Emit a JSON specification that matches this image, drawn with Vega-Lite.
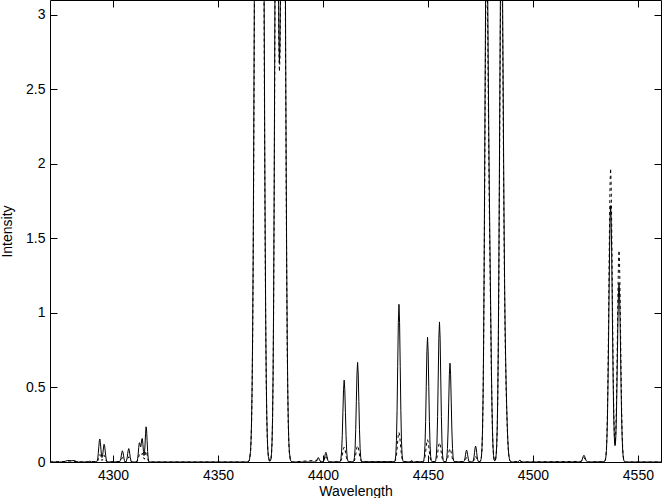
{
  "$schema": "https://vega.github.io/schema/vega-lite/v6.json",
  "width": 611,
  "height": 462,
  "autosize": {"type": "none"},
  "padding": {"left": 50, "top": 0, "right": 1, "bottom": 36},
  "background": "white",
  "config": {
    "font": "Liberation Sans",
    "view": {"stroke": "black", "strokeWidth": 1},
    "axis": {
      "domain": false,
      "grid": false,
      "tickColor": "black",
      "tickWidth": 1,
      "tickSize": -7,
      "labelColor": "black",
      "labelFontSize": 14,
      "labelFont": "Liberation Sans",
      "labelOverlap": false,
      "labelFlush": false,
      "labelBound": false,
      "titleColor": "black",
      "titleFont": "Liberation Sans",
      "titleFontSize": 14,
      "titleFontWeight": "normal"
    }
  },
  "datasets": {
    "solid": [
      {"w": 4270, "v": 0}, {"w": 4276.5, "v": 0}, {"w": 4277.5, "v": 0.006}, {"w": 4278.5, "v": 0.01}, {"w": 4280, "v": 0.008}, {"w": 4281.5, "v": 0.01}, {"w": 4282.5, "v": 0.004}, {"w": 4283.5, "v": 0},
      {"w": 4288.3, "v": 0}, {"w": 4289, "v": 0.006}, {"w": 4289.7, "v": 0},
      {"w": 4292.2, "v": 0.002}, {"w": 4292.5, "v": 0.009}, {"w": 4292.75, "v": 0.025}, {"w": 4293, "v": 0.058}, {"w": 4293.25, "v": 0.103}, {"w": 4293.5, "v": 0.143}, {"w": 4293.75, "v": 0.154}, {"w": 4294, "v": 0.13}, {"w": 4294.25, "v": 0.086}, {"w": 4294.5, "v": 0.047}, {"w": 4294.75, "v": 0.03}, {"w": 4295, "v": 0.038}, {"w": 4295.25, "v": 0.067}, {"w": 4295.5, "v": 0.1}, {"w": 4295.75, "v": 0.119}, {"w": 4296, "v": 0.111}, {"w": 4296.25, "v": 0.08}, {"w": 4296.5, "v": 0.045}, {"w": 4296.75, "v": 0.02}, {"w": 4297, "v": 0.007}, {"w": 4297.3, "v": 0.001}, {"w": 4297.6, "v": 0},
      {"w": 4303, "v": 0.001}, {"w": 4303.25, "v": 0.003}, {"w": 4303.5, "v": 0.01}, {"w": 4303.75, "v": 0.024}, {"w": 4304, "v": 0.046}, {"w": 4304.25, "v": 0.066}, {"w": 4304.5, "v": 0.075}, {"w": 4304.75, "v": 0.066}, {"w": 4305, "v": 0.046}, {"w": 4305.25, "v": 0.024}, {"w": 4305.5, "v": 0.01}, {"w": 4305.75, "v": 0.003}, {"w": 4306, "v": 0.002}, {"w": 4306.25, "v": 0.004}, {"w": 4306.5, "v": 0.012}, {"w": 4306.75, "v": 0.029}, {"w": 4307, "v": 0.055}, {"w": 4307.25, "v": 0.079}, {"w": 4307.5, "v": 0.09}, {"w": 4307.75, "v": 0.079}, {"w": 4308, "v": 0.055}, {"w": 4308.25, "v": 0.029}, {"w": 4308.5, "v": 0.012}, {"w": 4308.75, "v": 0.004}, {"w": 4309, "v": 0.001}, {"w": 4309.3, "v": 0},
      {"w": 4311, "v": 0}, {"w": 4311.25, "v": 0.0015}, {"w": 4311.5, "v": 0.007}, {"w": 4311.75, "v": 0.022}, {"w": 4312, "v": 0.053}, {"w": 4312.25, "v": 0.096}, {"w": 4312.5, "v": 0.128}, {"w": 4312.75, "v": 0.129}, {"w": 4313, "v": 0.109}, {"w": 4313.25, "v": 0.102}, {"w": 4313.5, "v": 0.125}, {"w": 4313.75, "v": 0.156}, {"w": 4314, "v": 0.157}, {"w": 4314.25, "v": 0.119}, {"w": 4314.5, "v": 0.07}, {"w": 4314.75, "v": 0.043}, {"w": 4315, "v": 0.057}, {"w": 4315.25, "v": 0.114}, {"w": 4315.5, "v": 0.19}, {"w": 4315.75, "v": 0.236}, {"w": 4316, "v": 0.215}, {"w": 4316.25, "v": 0.144}, {"w": 4316.5, "v": 0.071}, {"w": 4316.75, "v": 0.026}, {"w": 4317, "v": 0.007}, {"w": 4317.25, "v": 0.001}, {"w": 4317.5, "v": 0},
      {"w": 4363.5, "v": 0}, {"w": 4364, "v": 0.0003}, {"w": 4364.5, "v": 0.002}, {"w": 4365, "v": 0.014}, {"w": 4365.5, "v": 0.07}, {"w": 4365.75, "v": 0.144}, {"w": 4366, "v": 0.277}, {"w": 4366.25, "v": 0.501}, {"w": 4366.5, "v": 0.852}, {"w": 4366.75, "v": 1.363}, {"w": 4367, "v": 2.05}, {"w": 4367.25, "v": 2.9}, {"w": 4367.5, "v": 3.85}, {"w": 4368, "v": 5.68}, {"w": 4368.5, "v": 6.75}, {"w": 4369, "v": 6.81}, {"w": 4369.5, "v": 6.53}, {"w": 4370, "v": 6.63}, {"w": 4370.5, "v": 6.87}, {"w": 4371, "v": 6.45}, {"w": 4371.5, "v": 5.0}, {"w": 4372, "v": 3.08}, {"w": 4372.25, "v": 2.21}, {"w": 4372.5, "v": 1.49}, {"w": 4372.75, "v": 0.941}, {"w": 4373, "v": 0.56}, {"w": 4373.25, "v": 0.313}, {"w": 4373.5, "v": 0.165}, {"w": 4373.75, "v": 0.081}, {"w": 4374, "v": 0.038}, {"w": 4374.5, "v": 0.007}, {"w": 4375, "v": 0.008}, {"w": 4375.25, "v": 0.021}, {"w": 4375.5, "v": 0.056}, {"w": 4375.75, "v": 0.135}, {"w": 4376, "v": 0.298}, {"w": 4376.25, "v": 0.596}, {"w": 4376.5, "v": 1.08}, {"w": 4376.75, "v": 1.78}, {"w": 4377, "v": 2.66}, {"w": 4377.25, "v": 3.59}, {"w": 4377.5, "v": 4.43}, {"w": 4377.9, "v": 5.05}, {"w": 4378.25, "v": 4.68}, {"w": 4378.5, "v": 4.03}, {"w": 4378.75, "v": 3.35}, {"w": 4379, "v": 2.88}, {"w": 4379.25, "v": 2.68}, {"w": 4379.5, "v": 2.78}, {"w": 4379.75, "v": 3.15}, {"w": 4380, "v": 3.8}, {"w": 4380.5, "v": 5.32}, {"w": 4381, "v": 6.0}, {"w": 4381.5, "v": 5.3}, {"w": 4382, "v": 3.64}, {"w": 4382.25, "v": 2.75}, {"w": 4382.5, "v": 1.95}, {"w": 4382.75, "v": 1.3}, {"w": 4383, "v": 0.81}, {"w": 4383.25, "v": 0.478}, {"w": 4383.5, "v": 0.263}, {"w": 4383.75, "v": 0.137}, {"w": 4384, "v": 0.067}, {"w": 4384.5, "v": 0.013}, {"w": 4385, "v": 0.002}, {"w": 4385.5, "v": 0},
      {"w": 4396.3, "v": 0}, {"w": 4396.8, "v": 0.004}, {"w": 4397.3, "v": 0.018}, {"w": 4397.8, "v": 0.03}, {"w": 4398.3, "v": 0.018}, {"w": 4398.8, "v": 0.004}, {"w": 4399.3, "v": 0.0003}, {"w": 4399.9, "v": 0.0007}, {"w": 4400.4, "v": 0.0088}, {"w": 4400.65, "v": 0.021}, {"w": 4400.9, "v": 0.039}, {"w": 4401.15, "v": 0.057}, {"w": 4401.4, "v": 0.065}, {"w": 4401.65, "v": 0.057}, {"w": 4401.9, "v": 0.039}, {"w": 4402.15, "v": 0.021}, {"w": 4402.4, "v": 0.0088}, {"w": 4402.9, "v": 0.0007}, {"w": 4403.3, "v": 0},
      {"w": 4408, "v": 0.0012}, {"w": 4408.3, "v": 0.006}, {"w": 4408.6, "v": 0.024}, {"w": 4408.9, "v": 0.074}, {"w": 4409.2, "v": 0.178}, {"w": 4409.5, "v": 0.333}, {"w": 4409.8, "v": 0.485}, {"w": 4410.1, "v": 0.549}, {"w": 4410.4, "v": 0.485}, {"w": 4410.7, "v": 0.333}, {"w": 4411, "v": 0.178}, {"w": 4411.3, "v": 0.074}, {"w": 4411.6, "v": 0.024}, {"w": 4411.9, "v": 0.006}, {"w": 4412.2, "v": 0.001},
      {"w": 4414.4, "v": 0.0015}, {"w": 4414.7, "v": 0.007}, {"w": 4415, "v": 0.029}, {"w": 4415.3, "v": 0.09}, {"w": 4415.6, "v": 0.217}, {"w": 4415.9, "v": 0.405}, {"w": 4416.2, "v": 0.59}, {"w": 4416.5, "v": 0.668}, {"w": 4416.8, "v": 0.59}, {"w": 4417.1, "v": 0.405}, {"w": 4417.4, "v": 0.217}, {"w": 4417.7, "v": 0.09}, {"w": 4418, "v": 0.029}, {"w": 4418.3, "v": 0.007}, {"w": 4418.6, "v": 0.0015},
      {"w": 4434.1, "v": 0.002}, {"w": 4434.4, "v": 0.012}, {"w": 4434.7, "v": 0.046}, {"w": 4435, "v": 0.143}, {"w": 4435.3, "v": 0.344}, {"w": 4435.6, "v": 0.642}, {"w": 4435.9, "v": 0.934}, {"w": 4436.2, "v": 1.058}, {"w": 4436.5, "v": 0.934}, {"w": 4436.8, "v": 0.642}, {"w": 4437.1, "v": 0.344}, {"w": 4437.4, "v": 0.143}, {"w": 4437.7, "v": 0.046}, {"w": 4438, "v": 0.012}, {"w": 4438.3, "v": 0.002},
      {"w": 4441.5, "v": 0}, {"w": 4442.2, "v": 0.01}, {"w": 4443, "v": 0},
      {"w": 4447.7, "v": 0.002}, {"w": 4448, "v": 0.009}, {"w": 4448.3, "v": 0.037}, {"w": 4448.6, "v": 0.113}, {"w": 4448.9, "v": 0.272}, {"w": 4449.2, "v": 0.508}, {"w": 4449.5, "v": 0.739}, {"w": 4449.8, "v": 0.837}, {"w": 4450.1, "v": 0.739}, {"w": 4450.4, "v": 0.508}, {"w": 4450.7, "v": 0.272}, {"w": 4451, "v": 0.113}, {"w": 4451.3, "v": 0.037}, {"w": 4451.6, "v": 0.009}, {"w": 4451.9, "v": 0.002},
      {"w": 4453.4, "v": 0.002}, {"w": 4453.7, "v": 0.01}, {"w": 4454, "v": 0.041}, {"w": 4454.3, "v": 0.127}, {"w": 4454.6, "v": 0.305}, {"w": 4454.9, "v": 0.57}, {"w": 4455.2, "v": 0.83}, {"w": 4455.5, "v": 0.94}, {"w": 4455.8, "v": 0.83}, {"w": 4456.1, "v": 0.57}, {"w": 4456.4, "v": 0.305}, {"w": 4456.7, "v": 0.127}, {"w": 4457, "v": 0.041}, {"w": 4457.3, "v": 0.01}, {"w": 4457.6, "v": 0.002},
      {"w": 4458.4, "v": 0.0015}, {"w": 4458.7, "v": 0.007}, {"w": 4459, "v": 0.029}, {"w": 4459.3, "v": 0.09}, {"w": 4459.6, "v": 0.215}, {"w": 4459.9, "v": 0.402}, {"w": 4460.2, "v": 0.585}, {"w": 4460.5, "v": 0.663}, {"w": 4460.8, "v": 0.585}, {"w": 4461.1, "v": 0.402}, {"w": 4461.4, "v": 0.215}, {"w": 4461.7, "v": 0.09}, {"w": 4462, "v": 0.029}, {"w": 4462.3, "v": 0.007}, {"w": 4462.6, "v": 0.0015},
      {"w": 4466.9, "v": 0.0009}, {"w": 4467.15, "v": 0.0035}, {"w": 4467.4, "v": 0.0108}, {"w": 4467.65, "v": 0.026}, {"w": 4467.9, "v": 0.0485}, {"w": 4468.15, "v": 0.0706}, {"w": 4468.4, "v": 0.08}, {"w": 4468.65, "v": 0.0706}, {"w": 4468.9, "v": 0.0485}, {"w": 4469.15, "v": 0.026}, {"w": 4469.4, "v": 0.0108}, {"w": 4469.65, "v": 0.0035}, {"w": 4469.9, "v": 0.0009},
      {"w": 4471.2, "v": 0.0012}, {"w": 4471.45, "v": 0.0047}, {"w": 4471.7, "v": 0.0145}, {"w": 4471.95, "v": 0.0347}, {"w": 4472.2, "v": 0.0649}, {"w": 4472.45, "v": 0.0944}, {"w": 4472.7, "v": 0.107}, {"w": 4472.95, "v": 0.0944}, {"w": 4473.2, "v": 0.0649}, {"w": 4473.45, "v": 0.0347}, {"w": 4473.7, "v": 0.0145}, {"w": 4473.95, "v": 0.0047}, {"w": 4474.2, "v": 0.0012},
      {"w": 4475, "v": 0.005}, {"w": 4475.25, "v": 0.015}, {"w": 4475.5, "v": 0.04}, {"w": 4475.75, "v": 0.097}, {"w": 4476, "v": 0.215}, {"w": 4476.25, "v": 0.429}, {"w": 4476.5, "v": 0.779}, {"w": 4476.75, "v": 1.28}, {"w": 4477, "v": 1.91}, {"w": 4477.25, "v": 2.59}, {"w": 4477.5, "v": 3.19}, {"w": 4477.75, "v": 3.58}, {"w": 4478, "v": 3.67}, {"w": 4478.25, "v": 3.47}, {"w": 4478.5, "v": 3.08}, {"w": 4478.75, "v": 2.61}, {"w": 4479, "v": 2.18}, {"w": 4479.25, "v": 1.81}, {"w": 4479.5, "v": 1.49}, {"w": 4479.75, "v": 1.19}, {"w": 4480, "v": 0.89}, {"w": 4480.25, "v": 0.61}, {"w": 4480.5, "v": 0.378}, {"w": 4480.75, "v": 0.209}, {"w": 4481, "v": 0.102}, {"w": 4481.25, "v": 0.044}, {"w": 4481.5, "v": 0.018}, {"w": 4481.75, "v": 0.008}, {"w": 4482, "v": 0.009}, {"w": 4482.25, "v": 0.02}, {"w": 4482.5, "v": 0.049}, {"w": 4482.75, "v": 0.111}, {"w": 4483, "v": 0.232}, {"w": 4483.25, "v": 0.444}, {"w": 4483.5, "v": 0.78}, {"w": 4483.75, "v": 1.26}, {"w": 4484, "v": 1.85}, {"w": 4484.25, "v": 2.51}, {"w": 4484.5, "v": 3.11}, {"w": 4484.75, "v": 3.56}, {"w": 4485, "v": 3.74}, {"w": 4485.25, "v": 3.61}, {"w": 4485.5, "v": 3.24}, {"w": 4485.75, "v": 2.71}, {"w": 4486, "v": 2.14}, {"w": 4486.25, "v": 1.63}, {"w": 4486.5, "v": 1.23}, {"w": 4486.75, "v": 0.92}, {"w": 4487, "v": 0.7}, {"w": 4487.25, "v": 0.52}, {"w": 4487.5, "v": 0.377}, {"w": 4487.75, "v": 0.257}, {"w": 4488, "v": 0.163}, {"w": 4488.25, "v": 0.093}, {"w": 4488.5, "v": 0.05}, {"w": 4488.75, "v": 0.025}, {"w": 4489, "v": 0.011}, {"w": 4489.5, "v": 0.002}, {"w": 4490, "v": 0},
      {"w": 4492.8, "v": 0}, {"w": 4493.3, "v": 0.006}, {"w": 4493.8, "v": 0.012}, {"w": 4494.3, "v": 0.006}, {"w": 4494.8, "v": 0},
      {"w": 4522.5, "v": 0.0005}, {"w": 4522.8, "v": 0.002}, {"w": 4523.1, "v": 0.006}, {"w": 4523.4, "v": 0.0146}, {"w": 4523.7, "v": 0.0273}, {"w": 4524, "v": 0.0397}, {"w": 4524.3, "v": 0.045}, {"w": 4524.6, "v": 0.0397}, {"w": 4524.9, "v": 0.0273}, {"w": 4525.2, "v": 0.0146}, {"w": 4525.5, "v": 0.006}, {"w": 4525.8, "v": 0.002}, {"w": 4526.1, "v": 0.0005}, {"w": 4526.5, "v": 0},
      {"w": 4534, "v": 0.0015}, {"w": 4534.5, "v": 0.013}, {"w": 4534.75, "v": 0.033}, {"w": 4535, "v": 0.0755}, {"w": 4535.25, "v": 0.157}, {"w": 4535.5, "v": 0.297}, {"w": 4535.75, "v": 0.507}, {"w": 4536, "v": 0.787}, {"w": 4536.25, "v": 1.108}, {"w": 4536.5, "v": 1.415}, {"w": 4536.75, "v": 1.638}, {"w": 4537, "v": 1.72}, {"w": 4537.25, "v": 1.638}, {"w": 4537.5, "v": 1.415}, {"w": 4537.75, "v": 1.108}, {"w": 4538, "v": 0.787}, {"w": 4538.25, "v": 0.508}, {"w": 4538.5, "v": 0.302}, {"w": 4538.75, "v": 0.17}, {"w": 4539, "v": 0.11}, {"w": 4539.25, "v": 0.112}, {"w": 4539.5, "v": 0.175}, {"w": 4539.75, "v": 0.304}, {"w": 4540, "v": 0.495}, {"w": 4540.25, "v": 0.728}, {"w": 4540.5, "v": 0.961}, {"w": 4540.75, "v": 1.135}, {"w": 4541, "v": 1.2}, {"w": 4541.25, "v": 1.135}, {"w": 4541.5, "v": 0.961}, {"w": 4541.75, "v": 0.728}, {"w": 4542, "v": 0.493}, {"w": 4542.25, "v": 0.299}, {"w": 4542.5, "v": 0.162}, {"w": 4542.75, "v": 0.079}, {"w": 4543, "v": 0.034}, {"w": 4543.25, "v": 0.0133}, {"w": 4543.5, "v": 0.0046}, {"w": 4544, "v": 0},
      {"w": 4561, "v": 0}
    ],
    "dashed": [
      {"w": 4270, "v": 0}, {"w": 4277.5, "v": 0.004}, {"w": 4279, "v": 0.007}, {"w": 4281, "v": 0.006}, {"w": 4283, "v": 0},
      {"w": 4292.5, "v": 0.003}, {"w": 4292.75, "v": 0.008}, {"w": 4293, "v": 0.019}, {"w": 4293.25, "v": 0.033}, {"w": 4293.5, "v": 0.046}, {"w": 4293.75, "v": 0.05}, {"w": 4294, "v": 0.042}, {"w": 4294.25, "v": 0.028}, {"w": 4294.5, "v": 0.016}, {"w": 4294.75, "v": 0.01}, {"w": 4295, "v": 0.014}, {"w": 4295.25, "v": 0.025}, {"w": 4295.5, "v": 0.038}, {"w": 4295.75, "v": 0.045}, {"w": 4296, "v": 0.042}, {"w": 4296.25, "v": 0.03}, {"w": 4296.5, "v": 0.017}, {"w": 4296.75, "v": 0.008}, {"w": 4297, "v": 0.003}, {"w": 4297.3, "v": 0.0005}, {"w": 4297.6, "v": 0},
      {"w": 4303.5, "v": 0.004}, {"w": 4304, "v": 0.018}, {"w": 4304.5, "v": 0.03}, {"w": 4305, "v": 0.018}, {"w": 4305.5, "v": 0.004}, {"w": 4306, "v": 0.001}, {"w": 4306.5, "v": 0.005}, {"w": 4307, "v": 0.021}, {"w": 4307.5, "v": 0.035}, {"w": 4308, "v": 0.021}, {"w": 4308.5, "v": 0.005}, {"w": 4309, "v": 0.0004}, {"w": 4309.3, "v": 0},
      {"w": 4311.5, "v": 0.0025}, {"w": 4312, "v": 0.02}, {"w": 4312.5, "v": 0.049}, {"w": 4313, "v": 0.041}, {"w": 4313.5, "v": 0.047}, {"w": 4314, "v": 0.059}, {"w": 4314.5, "v": 0.026}, {"w": 4315, "v": 0.02}, {"w": 4315.5, "v": 0.065}, {"w": 4316, "v": 0.073}, {"w": 4316.5, "v": 0.024}, {"w": 4317, "v": 0.0023}, {"w": 4317.5, "v": 0},
      {"w": 4363.5, "v": 0}, {"w": 4364, "v": 0.0003}, {"w": 4364.5, "v": 0.002}, {"w": 4365, "v": 0.013}, {"w": 4365.5, "v": 0.065}, {"w": 4365.75, "v": 0.134}, {"w": 4366, "v": 0.258}, {"w": 4366.25, "v": 0.466}, {"w": 4366.5, "v": 0.792}, {"w": 4366.75, "v": 1.268}, {"w": 4367, "v": 1.907}, {"w": 4367.25, "v": 2.697}, {"w": 4367.5, "v": 3.58}, {"w": 4368, "v": 5.28}, {"w": 4368.5, "v": 6.28}, {"w": 4369, "v": 6.33}, {"w": 4369.5, "v": 6.07}, {"w": 4370, "v": 6.17}, {"w": 4370.5, "v": 6.39}, {"w": 4371, "v": 6.0}, {"w": 4371.5, "v": 4.65}, {"w": 4372, "v": 2.864}, {"w": 4372.25, "v": 2.055}, {"w": 4372.5, "v": 1.386}, {"w": 4372.75, "v": 0.875}, {"w": 4373, "v": 0.521}, {"w": 4373.25, "v": 0.291}, {"w": 4373.5, "v": 0.153}, {"w": 4373.75, "v": 0.075}, {"w": 4374, "v": 0.035}, {"w": 4374.5, "v": 0.0065}, {"w": 4375, "v": 0.0074}, {"w": 4375.25, "v": 0.0195}, {"w": 4375.5, "v": 0.052}, {"w": 4375.75, "v": 0.126}, {"w": 4376, "v": 0.277}, {"w": 4376.25, "v": 0.554}, {"w": 4376.5, "v": 1.004}, {"w": 4376.75, "v": 1.655}, {"w": 4377, "v": 2.474}, {"w": 4377.25, "v": 3.34}, {"w": 4377.5, "v": 4.12}, {"w": 4377.9, "v": 4.7}, {"w": 4378.25, "v": 4.35}, {"w": 4378.5, "v": 3.75}, {"w": 4378.75, "v": 3.2}, {"w": 4379, "v": 2.78}, {"w": 4379.25, "v": 2.62}, {"w": 4379.5, "v": 2.7}, {"w": 4379.75, "v": 3.02}, {"w": 4380, "v": 3.53}, {"w": 4380.5, "v": 4.95}, {"w": 4381, "v": 5.58}, {"w": 4381.5, "v": 4.93}, {"w": 4382, "v": 3.385}, {"w": 4382.25, "v": 2.558}, {"w": 4382.5, "v": 1.814}, {"w": 4382.75, "v": 1.209}, {"w": 4383, "v": 0.753}, {"w": 4383.25, "v": 0.445}, {"w": 4383.5, "v": 0.245}, {"w": 4383.75, "v": 0.127}, {"w": 4384, "v": 0.062}, {"w": 4384.5, "v": 0.012}, {"w": 4385, "v": 0.002}, {"w": 4385.5, "v": 0},
      {"w": 4397.3, "v": 0.012}, {"w": 4397.8, "v": 0.02}, {"w": 4398.3, "v": 0.012}, {"w": 4398.8, "v": 0.003}, {"w": 4399.5, "v": 0}, {"w": 4400.4, "v": 0.006}, {"w": 4400.9, "v": 0.027}, {"w": 4401.4, "v": 0.045}, {"w": 4401.9, "v": 0.027}, {"w": 4402.4, "v": 0.006}, {"w": 4402.9, "v": 0},
      {"w": 4408, "v": 0.001}, {"w": 4408.35, "v": 0.0044}, {"w": 4408.7, "v": 0.0135}, {"w": 4409.05, "v": 0.032}, {"w": 4409.4, "v": 0.061}, {"w": 4409.75, "v": 0.088}, {"w": 4410.1, "v": 0.1}, {"w": 4410.45, "v": 0.088}, {"w": 4410.8, "v": 0.061}, {"w": 4411.15, "v": 0.032}, {"w": 4411.5, "v": 0.0135}, {"w": 4411.85, "v": 0.0044}, {"w": 4412.2, "v": 0.001},
      {"w": 4414.4, "v": 0.0012}, {"w": 4414.75, "v": 0.0048}, {"w": 4415.1, "v": 0.0149}, {"w": 4415.45, "v": 0.0357}, {"w": 4415.8, "v": 0.0667}, {"w": 4416.15, "v": 0.097}, {"w": 4416.5, "v": 0.11}, {"w": 4416.85, "v": 0.097}, {"w": 4417.2, "v": 0.0667}, {"w": 4417.55, "v": 0.0357}, {"w": 4417.9, "v": 0.0149}, {"w": 4418.25, "v": 0.0048}, {"w": 4418.6, "v": 0.0012},
      {"w": 4434.1, "v": 0.0022}, {"w": 4434.45, "v": 0.0088}, {"w": 4434.8, "v": 0.027}, {"w": 4435.15, "v": 0.065}, {"w": 4435.5, "v": 0.121}, {"w": 4435.85, "v": 0.1765}, {"w": 4436.2, "v": 0.2}, {"w": 4436.55, "v": 0.1765}, {"w": 4436.9, "v": 0.121}, {"w": 4437.25, "v": 0.065}, {"w": 4437.6, "v": 0.027}, {"w": 4437.95, "v": 0.0088}, {"w": 4438.3, "v": 0.0022},
      {"w": 4447.7, "v": 0.0017}, {"w": 4448.05, "v": 0.0066}, {"w": 4448.4, "v": 0.0203}, {"w": 4448.75, "v": 0.0487}, {"w": 4449.1, "v": 0.091}, {"w": 4449.45, "v": 0.132}, {"w": 4449.8, "v": 0.15}, {"w": 4450.15, "v": 0.132}, {"w": 4450.5, "v": 0.091}, {"w": 4450.85, "v": 0.0487}, {"w": 4451.2, "v": 0.0203}, {"w": 4451.55, "v": 0.0066}, {"w": 4451.9, "v": 0.0017},
      {"w": 4453.4, "v": 0.0014}, {"w": 4453.75, "v": 0.0057}, {"w": 4454.1, "v": 0.0176}, {"w": 4454.45, "v": 0.0422}, {"w": 4454.8, "v": 0.0788}, {"w": 4455.15, "v": 0.1147}, {"w": 4455.5, "v": 0.13}, {"w": 4455.85, "v": 0.1147}, {"w": 4456.2, "v": 0.0788}, {"w": 4456.55, "v": 0.0422}, {"w": 4456.9, "v": 0.0176}, {"w": 4457.25, "v": 0.0057}, {"w": 4457.6, "v": 0.0014},
      {"w": 4458.4, "v": 0.001}, {"w": 4458.75, "v": 0.004}, {"w": 4459.1, "v": 0.0122}, {"w": 4459.45, "v": 0.0292}, {"w": 4459.8, "v": 0.0546}, {"w": 4460.15, "v": 0.079}, {"w": 4460.5, "v": 0.09}, {"w": 4460.85, "v": 0.079}, {"w": 4461.2, "v": 0.0546}, {"w": 4461.55, "v": 0.0292}, {"w": 4461.9, "v": 0.0122}, {"w": 4462.25, "v": 0.004}, {"w": 4462.6, "v": 0.001},
      {"w": 4467.4, "v": 0.004}, {"w": 4467.9, "v": 0.018}, {"w": 4468.4, "v": 0.03}, {"w": 4468.9, "v": 0.018}, {"w": 4469.4, "v": 0.004}, {"w": 4469.9, "v": 0},
      {"w": 4471.7, "v": 0.0054}, {"w": 4472.2, "v": 0.0243}, {"w": 4472.7, "v": 0.04}, {"w": 4473.2, "v": 0.0243}, {"w": 4473.7, "v": 0.0054}, {"w": 4474.2, "v": 0.0005},
      {"w": 4475, "v": 0.005}, {"w": 4475.25, "v": 0.014}, {"w": 4475.5, "v": 0.037}, {"w": 4475.75, "v": 0.09}, {"w": 4476, "v": 0.2}, {"w": 4476.25, "v": 0.399}, {"w": 4476.5, "v": 0.724}, {"w": 4476.75, "v": 1.19}, {"w": 4477, "v": 1.776}, {"w": 4477.25, "v": 2.409}, {"w": 4477.5, "v": 2.967}, {"w": 4477.75, "v": 3.33}, {"w": 4478, "v": 3.413}, {"w": 4478.25, "v": 3.227}, {"w": 4478.5, "v": 2.864}, {"w": 4478.75, "v": 2.427}, {"w": 4479, "v": 2.027}, {"w": 4479.25, "v": 1.683}, {"w": 4479.5, "v": 1.386}, {"w": 4479.75, "v": 1.107}, {"w": 4480, "v": 0.828}, {"w": 4480.25, "v": 0.567}, {"w": 4480.5, "v": 0.352}, {"w": 4480.75, "v": 0.194}, {"w": 4481, "v": 0.095}, {"w": 4481.25, "v": 0.041}, {"w": 4481.5, "v": 0.017}, {"w": 4481.75, "v": 0.0075}, {"w": 4482, "v": 0.0084}, {"w": 4482.25, "v": 0.0186}, {"w": 4482.5, "v": 0.046}, {"w": 4482.75, "v": 0.103}, {"w": 4483, "v": 0.216}, {"w": 4483.25, "v": 0.413}, {"w": 4483.5, "v": 0.725}, {"w": 4483.75, "v": 1.172}, {"w": 4484, "v": 1.72}, {"w": 4484.25, "v": 2.334}, {"w": 4484.5, "v": 2.892}, {"w": 4484.75, "v": 3.311}, {"w": 4485, "v": 3.478}, {"w": 4485.25, "v": 3.357}, {"w": 4485.5, "v": 3.013}, {"w": 4485.75, "v": 2.52}, {"w": 4486, "v": 1.99}, {"w": 4486.25, "v": 1.516}, {"w": 4486.5, "v": 1.144}, {"w": 4486.75, "v": 0.856}, {"w": 4487, "v": 0.651}, {"w": 4487.25, "v": 0.484}, {"w": 4487.5, "v": 0.351}, {"w": 4487.75, "v": 0.239}, {"w": 4488, "v": 0.152}, {"w": 4488.25, "v": 0.086}, {"w": 4488.5, "v": 0.047}, {"w": 4488.75, "v": 0.023}, {"w": 4489, "v": 0.01}, {"w": 4489.5, "v": 0.002}, {"w": 4490, "v": 0},
      {"w": 4493.3, "v": 0.004}, {"w": 4493.8, "v": 0.008}, {"w": 4494.3, "v": 0.004}, {"w": 4494.8, "v": 0},
      {"w": 4523.1, "v": 0.004}, {"w": 4523.7, "v": 0.018}, {"w": 4524.3, "v": 0.03}, {"w": 4524.9, "v": 0.018}, {"w": 4525.5, "v": 0.004}, {"w": 4526.1, "v": 0},
      {"w": 4534, "v": 0.0017}, {"w": 4534.5, "v": 0.015}, {"w": 4534.75, "v": 0.038}, {"w": 4535, "v": 0.0864}, {"w": 4535.25, "v": 0.18}, {"w": 4535.5, "v": 0.34}, {"w": 4535.75, "v": 0.581}, {"w": 4536, "v": 0.901}, {"w": 4536.25, "v": 1.269}, {"w": 4536.5, "v": 1.62}, {"w": 4536.75, "v": 1.875}, {"w": 4537, "v": 1.97}, {"w": 4537.25, "v": 1.875}, {"w": 4537.5, "v": 1.62}, {"w": 4537.75, "v": 1.269}, {"w": 4538, "v": 0.901}, {"w": 4538.25, "v": 0.582}, {"w": 4538.5, "v": 0.345}, {"w": 4538.75, "v": 0.196}, {"w": 4539, "v": 0.127}, {"w": 4539.25, "v": 0.131}, {"w": 4539.5, "v": 0.207}, {"w": 4539.75, "v": 0.359}, {"w": 4540, "v": 0.585}, {"w": 4540.25, "v": 0.861}, {"w": 4540.5, "v": 1.137}, {"w": 4540.75, "v": 1.343}, {"w": 4541, "v": 1.42}, {"w": 4541.25, "v": 1.343}, {"w": 4541.5, "v": 1.137}, {"w": 4541.75, "v": 0.861}, {"w": 4542, "v": 0.583}, {"w": 4542.25, "v": 0.354}, {"w": 4542.5, "v": 0.192}, {"w": 4542.75, "v": 0.0932}, {"w": 4543, "v": 0.0406}, {"w": 4543.25, "v": 0.0157}, {"w": 4543.5, "v": 0.0054}, {"w": 4544, "v": 0},
      {"w": 4561, "v": 0}
    ]
  },
  "layer": [
    {
      "data": {"name": "dashed"},
      "mark": {"type": "line", "color": "black", "strokeWidth": 1, "strokeDash": [3, 3], "clip": true},
      "encoding": {
        "x": {"field": "w", "type": "quantitative", "scale": {"domain": [4270, 4561], "nice": false, "zero": false},
              "axis": {"orient": "top", "values": [4300, 4350, 4400, 4450, 4500, 4550], "labels": false, "title": null}},
        "y": {"field": "v", "type": "quantitative", "scale": {"domain": [0, 3.1], "nice": false, "zero": true},
              "axis": {"orient": "right", "values": [0, 0.5, 1, 1.5, 2, 2.5, 3], "labels": false, "title": null}}
      }
    },
    {
      "data": {"name": "solid"},
      "mark": {"type": "line", "color": "black", "strokeWidth": 1, "clip": true},
      "encoding": {
        "x": {"field": "w", "type": "quantitative",
              "axis": {"orient": "bottom", "values": [4300, 4350, 4400, 4450, 4500, 4550], "format": "d", "title": "Wavelength", "labelPadding": 13, "titlePadding": 2}},
        "y": {"field": "v", "type": "quantitative",
              "axis": {"orient": "left", "values": [0, 0.5, 1, 1.5, 2, 2.5, 3], "format": "~g", "title": "Intensity", "labelPadding": 12, "titlePadding": 11}}
      }
    }
  ],
  "resolve": {"axis": {"x": "independent", "y": "independent"}}
}
